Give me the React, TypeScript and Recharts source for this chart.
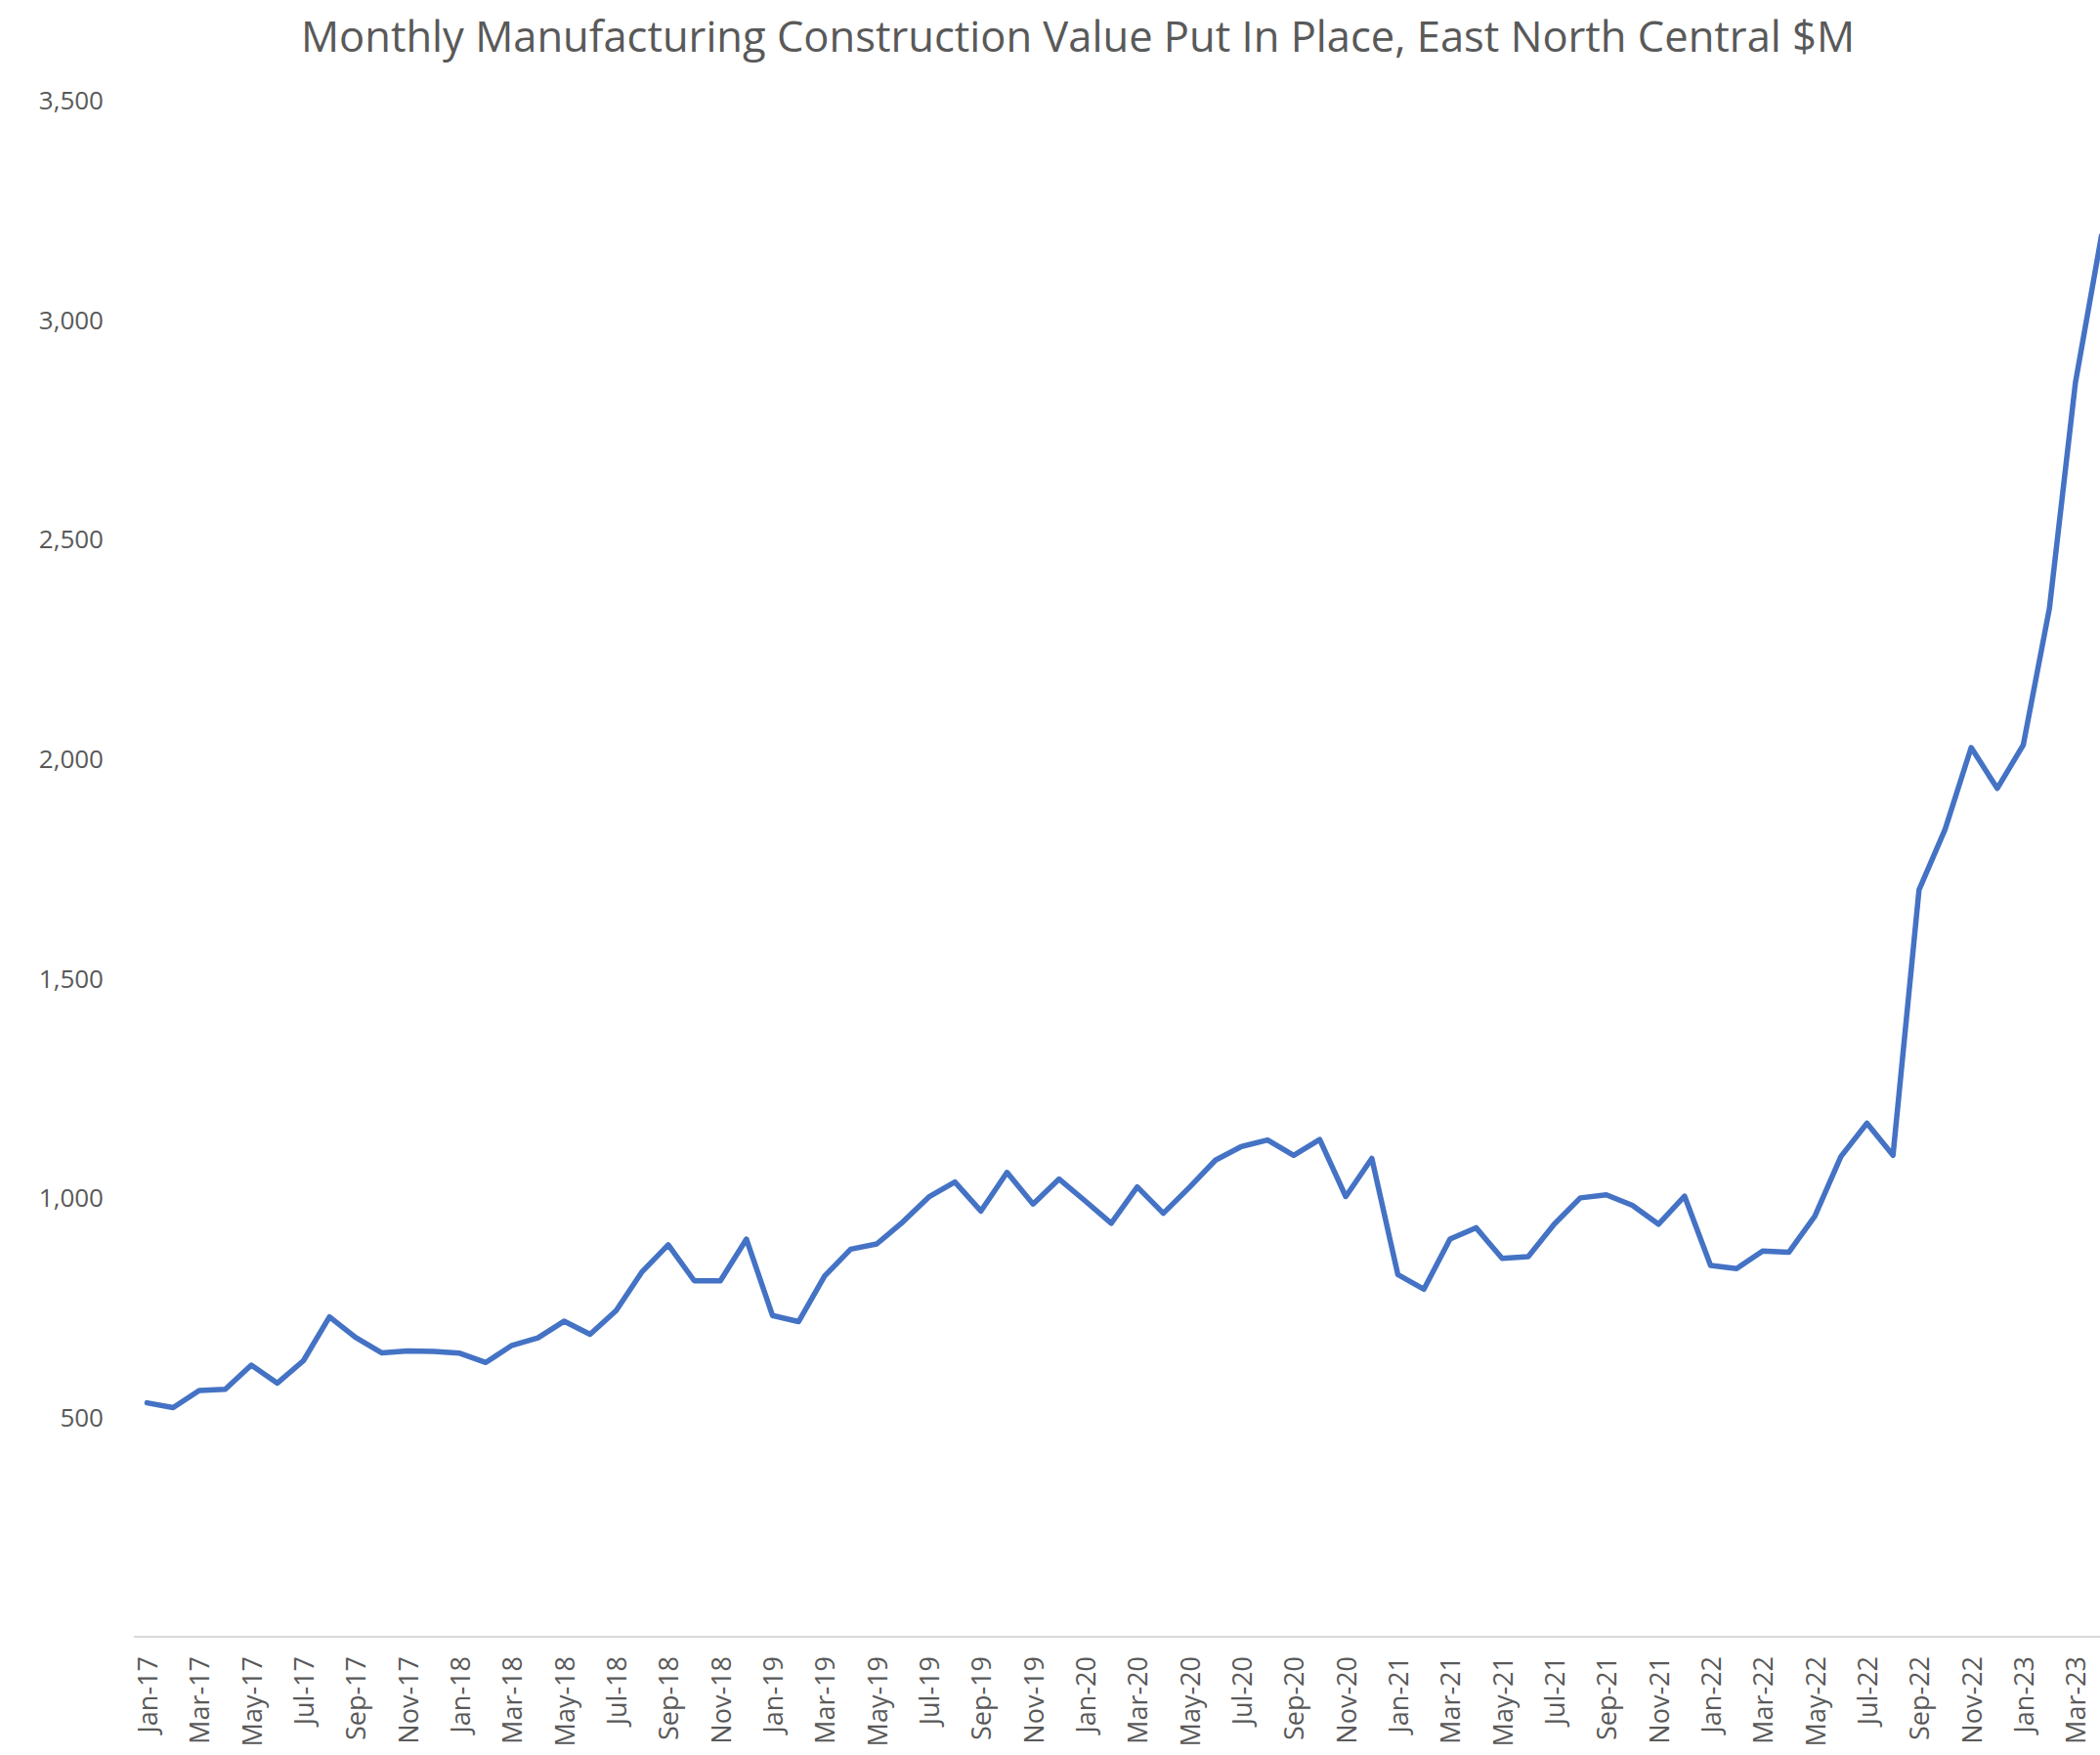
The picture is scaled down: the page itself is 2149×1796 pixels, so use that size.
import { LineChart, Line, XAxis, YAxis } from "recharts";

// Monthly manufacturing construction value put in place, East North Central ($M)
const MONTHS = ["Jan", "Feb", "Mar", "Apr", "May", "Jun", "Jul", "Aug", "Sep", "Oct", "Nov", "Dec"];
const YEARS = ["17", "18", "19", "20", "21", "22", "23"];

const v2017 = [533, 522, 561, 564, 619, 578, 629, 729, 682, 647, 651, 650];
const v2018 = [646, 625, 664, 681, 719, 689, 743, 832, 893, 811, 811, 906];
const v2019 = [732, 718, 822, 883, 895, 945, 1002, 1036, 970, 1058, 986, 1043];
const v2020 = [993, 942, 1025, 965, 1024, 1086, 1117, 1132, 1097, 1133, 1003, 1090];
const v2021 = [825, 792, 906, 932, 862, 866, 940, 1000, 1007, 983, 940, 1004];
const v2022 = [846, 839, 879, 876, 958, 1094, 1170, 1097, 1702, 1840, 2026, 1933];
const v2023 = [2032, 2342, 2857, 3192];

const Y_TICKS = [0, 500, 1000, 1500, 2000, 2500, 3000, 3500];

const valores = [...v2017, ...v2018, ...v2019, ...v2020, ...v2021, ...v2022, ...v2023];
const meses = YEARS.flatMap((a) => MONTHS.map((m) => `${m}-${a}`)).slice(0, valores.length);
const data = meses.map((mes, i) => ({ mes, valor: valores[i] }));

const COR_LINHA = "#4472C4";
const COR_TEXTO = "#595959";
const FONTE = "'Open Sans', sans-serif";

function fmtMil(v: number) {
  return v === 0 ? "" : v.toLocaleString("en-US");
}

function XTick({ x, y, payload }: any) {
  return (
    <text
      x={x}
      y={y}
      transform={`rotate(-90, ${x}, ${y})`}
      textAnchor="end"
      dominantBaseline="central"
      fill={COR_TEXTO}
      fontSize={27}
      fontFamily={FONTE}
    >
      {payload.value}
    </text>
  );
}

export default function App() {
  return (
    <div
      style={{
        position: "absolute",
        left: 0,
        top: 0,
        width: 2149,
        height: 1796,
        overflow: "hidden",
        background: "#fff",
      }}
    >
      <svg width={2149} height={90} style={{ position: "absolute", left: 0, top: 0, zIndex: 1 }}>
        <text x={1103} y={53} textAnchor="middle" fill={COR_TEXTO} fontSize={43.5} fontFamily={FONTE}>
          Monthly Manufacturing Construction Value Put In Place, East North Central $M
        </text>
      </svg>
      <LineChart
        width={2170}
        height={1796}
        data={data}
        margin={{ top: 103, right: 6, bottom: 0, left: 0 }}
      >
        <XAxis
          dataKey="mes"
          interval={1}
          padding={{ left: 13.5, right: 13.5 }}
          axisLine={{ stroke: "#d9d9d9", strokeWidth: 2 }}
          tickLine={false}
          tickSize={0}
          tickMargin={20}
          height={121}
          tick={<XTick />}
        />
        <YAxis
          type="number"
          domain={[0, 3500]}
          ticks={Y_TICKS}
          tickFormatter={fmtMil}
          axisLine={false}
          tickLine={false}
          tickSize={0}
          tickMargin={31}
          width={137}
          tick={{ fill: COR_TEXTO, fontSize: 26, fontFamily: FONTE }}
        />
        <Line
          type="linear"
          dataKey="valor"
          stroke={COR_LINHA}
          strokeWidth={5.5}
          strokeLinejoin="round"
          strokeLinecap="round"
          dot={false}
          activeDot={false}
          isAnimationActive={false}
        />
      </LineChart>
    </div>
  );
}
